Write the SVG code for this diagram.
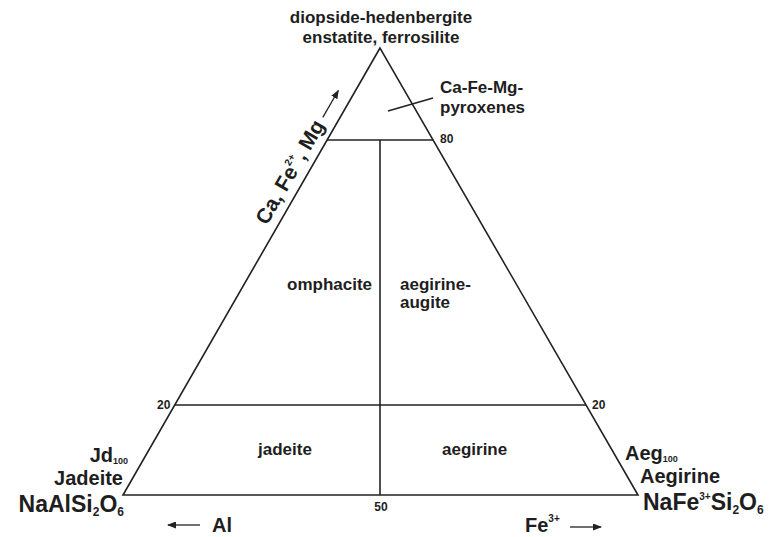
<svg xmlns="http://www.w3.org/2000/svg" width="771" height="537" viewBox="0 0 771 537">
<style>
text{font-family:"Liberation Sans",Arial,Helvetica,sans-serif;font-weight:bold;fill:#1e1e1e}
.lbl{font-size:17px}
.big{font-size:20px}
.rot{font-size:21px}
.huge{font-size:23px}
.num{font-size:12px}
.ln{stroke:#222;stroke-width:1.6;fill:none}
.ar{stroke:#222;stroke-width:1.3;fill:none}
</style>
<defs>
<marker id="ah" markerWidth="9" markerHeight="7" refX="8" refY="3.5" orient="auto" markerUnits="userSpaceOnUse">
<path d="M0,0 L9,3.5 L0,7 Z" fill="#222"/>
</marker>
</defs>
<g id="connectors">
<polygon id="triangle" class="ln" points="380,48 123,495 638,495"/>
<line id="line80" class="ln" x1="327" y1="140" x2="433" y2="140"/>
<line id="line20" class="ln" x1="175" y1="405" x2="586" y2="405"/>
<line id="line50" class="ln" x1="380" y1="140" x2="380" y2="495"/>
<line id="tick" class="ln" x1="388" y1="111" x2="433" y2="98" stroke-width="1.3"/>
<line class="ar" x1="200" y1="525" x2="168" y2="525" marker-end="url(#ah)"/>
<line class="ar" x1="570" y1="527" x2="601" y2="527" marker-end="url(#ah)"/>
</g>
<g id="apex">
<text class="lbl" x="381" y="23" text-anchor="middle">diopside-hedenbergite</text>
<text class="lbl" x="381" y="43" text-anchor="middle">enstatite, ferrosilite</text>
</g>
<g id="cafemg">
<text class="lbl" x="440" y="93">Ca-Fe-Mg-</text>
<text class="lbl" x="440" y="113">pyroxenes</text>
</g>
<g id="axis-left" transform="translate(267,226) rotate(-60)">
<text class="rot" x="0" y="0">Ca, Fe<tspan font-size="10" dy="-10">2+</tspan><tspan dy="10">, Mg</tspan></text>
<line class="ar" x1="122" y1="-6" x2="153" y2="-6" marker-end="url(#ah)"/>
</g>
<g id="numbers">
<text class="num" x="440" y="143">80</text>
<text class="num" x="157" y="409">20</text>
<text class="num" x="592" y="409">20</text>
<text class="num" x="381" y="511" text-anchor="middle">50</text>
</g>
<g id="omphacite"><text class="lbl" x="287" y="290">omphacite</text></g>
<g id="aegirine-augite">
<text class="lbl" x="400" y="290">aegirine-</text>
<text class="lbl" x="400" y="308">augite</text>
</g>
<g id="jadeite"><text class="lbl" x="258" y="455">jadeite</text></g>
<g id="aegirine"><text class="lbl" x="442" y="455">aegirine</text></g>
<g id="jd-corner">
<text class="big" x="128" y="462" text-anchor="end">Jd<tspan font-size="9" dy="2">100</tspan></text>
<text class="big" x="123" y="485" text-anchor="end">Jadeite</text>
<text class="huge" x="124" y="512" text-anchor="end">NaAlSi<tspan font-size="12" dy="4">2</tspan><tspan dy="-4">O</tspan><tspan font-size="12" dy="4">6</tspan></text>
</g>
<g id="aeg-corner">
<text class="big" x="625" y="460">Aeg<tspan font-size="9" dy="2">100</tspan></text>
<text class="big" x="640" y="483">Aegirine</text>
<text class="huge" x="643" y="510">NaFe<tspan font-size="10" dy="-10">3+</tspan><tspan dy="10">Si</tspan><tspan font-size="12" dy="4">2</tspan><tspan dy="-4">O</tspan><tspan font-size="12" dy="4">6</tspan></text>
</g>
<g id="al"><text class="big" x="212" y="532">Al</text></g>
<g id="fe"><text class="big" x="525" y="532">Fe<tspan font-size="10" dy="-10">3+</tspan></text></g>
</svg>
